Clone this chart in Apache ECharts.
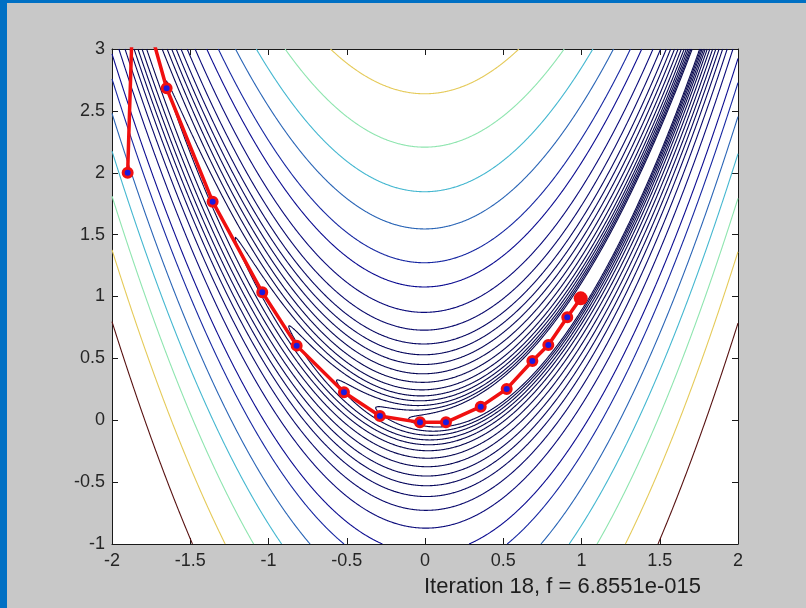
<!DOCTYPE html>
<html>
<head>
<meta charset="utf-8">
<script src="https://cdn.jsdelivr.net/npm/echarts@6/dist/echarts.min.js"></script>
<style>
html, body { margin: 0; padding: 0; background: #c8c8c8; }
#main { width: 806px; height: 608px; }
</style>
</head>
<body>
<div id="main"></div>
<script>
// axis ticks
var xTicks = [-2, -1.5, -1, -0.5, 0, 0.5, 1, 1.5, 2];
var yTicks = [-1, -0.5, 0, 0.5, 1, 1.5, 2, 2.5, 3];

// contour levels of f(x,y) = (1-x)^2 + 100(y-x^2)^2
var contourLevels = [1.22, 1.73, 2.45, 3.5, 4.9, 7.05, 10.4, 15.1, 21.3, 29, 39, 54, 77,
	117, 163, 240, 342, 488, 697, 1035];

// iterates of the minimiser (the 2nd one lies above the frame)
var pathX = [-1.9, -1.86, -1.651, -1.357, -1.040, -0.820, -0.518, -0.288, -0.032, 0.134,
	0.356, 0.522, 0.686, 0.788, 0.909, 0.995];
var pathY = [2.0, 3.63, 2.683, 1.766, 1.034, 0.603, 0.226, 0.034, -0.017, -0.017,
	0.110, 0.253, 0.479, 0.608, 0.832, 0.985];

var xlabelText = 'Iteration 18, f = 6.8551e-015';

function rosen(x, y) {
	return (1 - x) * (1 - x) + 100 * (y - x * x) * (y - x * x);
}

// sample the function
var x0 = xTicks[0], x1 = xTicks[xTicks.length - 1];
var y0 = yTicks[0], y1 = yTicks[yTicks.length - 1];
var nx = 801, ny = 801;
var dx = (x1 - x0) / (nx - 1), dy = (y1 - y0) / (ny - 1);
var z = new Float64Array(nx * ny);
for (var j = 0; j < ny; j++) {
	for (var i = 0; i < nx; i++) {
		z[j * nx + i] = rosen(x0 + i * dx, y0 + j * dy);
	}
}

// marching squares, segments joined into polylines by shared grid edges
function traceLevel(L) {
	var nbr = new Map();
	function link(a, b) {
		var na = nbr.get(a);
		if (na) na.push(b); else nbr.set(a, [b]);
		var nb = nbr.get(b);
		if (nb) nb.push(a); else nbr.set(b, [a]);
	}
	for (var j = 0; j < ny - 1; j++) {
		for (var i = 0; i < nx - 1; i++) {
			var k = j * nx + i;
			var v0 = z[k], v1 = z[k + 1], v2 = z[k + nx + 1], v3 = z[k + nx];
			var code = (v0 >= L ? 1 : 0) | (v1 >= L ? 2 : 0) | (v2 >= L ? 4 : 0) | (v3 >= L ? 8 : 0);
			if (code === 0 || code === 15) continue;
			var eB = 2 * k, eR = 2 * (k + 1) + 1, eT = 2 * (k + nx), eL = 2 * k + 1;
			if (code === 5 || code === 10) {
				var cUp = (v0 + v1 + v2 + v3) / 4 >= L;
				if ((code === 5) === cUp) {
					link(eB, eR); link(eT, eL);
				} else {
					link(eL, eB); link(eR, eT);
				}
				continue;
			}
			var list = [];
			var b0 = code & 1, b1 = (code >> 1) & 1, b2 = (code >> 2) & 1, b3 = (code >> 3) & 1;
			if (b0 !== b1) list.push(eB);
			if (b1 !== b2) list.push(eR);
			if (b2 !== b3) list.push(eT);
			if (b3 !== b0) list.push(eL);
			link(list[0], list[1]);
		}
	}
	function pt(e) {
		var k, i, j, t;
		if (e % 2 === 0) {
			k = e / 2; i = k % nx; j = (k - i) / nx;
			t = (L - z[k]) / (z[k + 1] - z[k]);
			return [x0 + (i + t) * dx, y0 + j * dy];
		}
		k = (e - 1) / 2; i = k % nx; j = (k - i) / nx;
		t = (L - z[k]) / (z[k + nx] - z[k]);
		return [x0 + i * dx, y0 + (j + t) * dy];
	}
	var seen = new Set();
	var out = [];
	function walk(start) {
		var pts = [], prev = -1, cur = start;
		while (cur !== undefined && !seen.has(cur)) {
			seen.add(cur);
			pts.push(pt(cur));
			var n = nbr.get(cur);
			var next = n[0] !== prev ? n[0] : n[1];
			prev = cur;
			cur = next;
		}
		if (cur === start) pts.push(pts[0]);
		if (pts.length > 1) out.push(pts);
	}
	nbr.forEach(function(n, e) {
		if (n.length === 1 && !seen.has(e)) walk(e);
	});
	nbr.forEach(function(n, e) {
		if (!seen.has(e)) walk(e);
	});
	return out;
}

// jet colour map, washed toward its own luminance like the thin lines in the picture
function jet(t) {
	var r = 1.5 - Math.abs(4 * t - 3), g = 1.5 - Math.abs(4 * t - 2), b = 1.5 - Math.abs(4 * t - 1);
	var rgb = [r, g, b].map(function(v) { return Math.max(0, Math.min(1, v)) * 255; });
	var lum = 0.299 * rgb[0] + 0.587 * rgb[1] + 0.114 * rgb[2];
	rgb = rgb.map(function(v) { return Math.round(lum + (v - lum) * 0.55); });
	return 'rgb(' + rgb.join(',') + ')';
}

var lMin = contourLevels[0], lMax = contourLevels[contourLevels.length - 1];
var contourData = [];
contourLevels.forEach(function(L) {
	var color = jet((L - lMin) / (lMax - lMin));
	traceLevel(L).forEach(function(pts) {
		contourData.push({ coords: pts, lineStyle: { color: color } });
	});
});

var pathData = pathX.map(function(x, i) {
	return [x, pathY[i]];
});
var last = pathData.length - 1;
pathData[last] = {
	value: pathData[last],
	symbolSize: 14,
	itemStyle: { color: '#f01010', borderWidth: 0 }
};

var font = '"Liberation Sans", Arial, sans-serif';
function axisX(pos, labels) {
	return {
		type: 'value', position: pos, min: x0, max: x1, interval: xTicks[1] - xTicks[0],
		axisLine: { show: true, onZero: false, lineStyle: { color: '#1a1a1a', width: 1 } },
		axisTick: { show: true, inside: true, length: 6, lineStyle: { color: '#1a1a1a' } },
		axisLabel: { show: labels, fontSize: 18, color: '#262626', margin: 8, fontFamily: font },
		splitLine: { show: false }
	};
}
function axisY(pos, labels) {
	return {
		type: 'value', position: pos, min: y0, max: y1, interval: yTicks[1] - yTicks[0],
		axisLine: { show: true, onZero: false, lineStyle: { color: '#1a1a1a', width: 1 } },
		axisTick: { show: true, inside: true, length: 6, lineStyle: { color: '#1a1a1a' } },
		axisLabel: { show: labels, fontSize: 18, color: '#262626', margin: 7, fontFamily: font },
		splitLine: { show: false }
	};
}

var chart = echarts.init(document.getElementById('main'));
chart.setOption({
	animation: false,
	backgroundColor: '#c8c8c8',
	grid: {
		left: 112, right: 68, top: 49, bottom: 64,
		show: true, backgroundColor: '#ffffff', borderWidth: 0
	},
	xAxis: [axisX('bottom', true), axisX('top', false)],
	yAxis: [axisY('left', true), axisY('right', false)],
	graphic: [
		{ type: 'rect', left: 0, top: 0, shape: { width: 806, height: 3 }, style: { fill: '#0070c4' } },
		{ type: 'rect', left: 0, top: 0, shape: { width: 7, height: 608 }, style: { fill: '#0070c4' } },
		{
			type: 'text', left: 424, top: 576,
			style: { text: xlabelText, font: '22px ' + font, fill: '#1e1e1e' }
		}
	],
	series: [{
		type: 'lines',
		coordinateSystem: 'cartesian2d',
		polyline: true,
		silent: true,
		z: 2,
		lineStyle: { width: 1.1, opacity: 1 },
		data: contourData
	}, {
		type: 'line',
		z: 5,
		clip: true,
		silent: true,
		data: pathData,
		lineStyle: { color: '#f01010', width: 3.5 },
		symbol: 'circle',
		symbolSize: 9,
		itemStyle: { color: '#1a1ae0', borderColor: '#f01010', borderWidth: 3 }
	}]
});
</script>
</body>
</html>
